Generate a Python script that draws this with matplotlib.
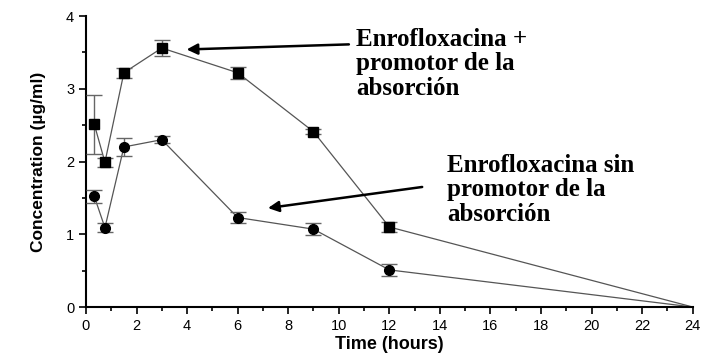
import numpy as np
import matplotlib.pyplot as plt
from matplotlib.ticker import MultipleLocator

# sampling times (hours)
time_h = [0.33, 0.75, 1.5, 3, 6, 9, 12, 24]

# enrofloxacina + promotor de la absorcion
conc_prom = [2.51, 1.99, 3.22, 3.56, 3.22, 2.41, 1.10, 0.0]
err_prom = [0.40, 0.06, 0.07, 0.11, 0.08, 0.03, 0.07, 0.0]

# enrofloxacina sin promotor
conc_sin = [1.52, 1.09, 2.20, 2.30, 1.23, 1.07, 0.51, 0.0]
err_sin = [0.09, 0.06, 0.12, 0.05, 0.08, 0.08, 0.08, 0.0]

fig = plt.figure(figsize=(7.03, 3.55), dpi=100)
ax = fig.add_axes([0.1223, 0.1352, 0.863, 0.8197])

# connecting lines first, markers with error bars on top
ax.plot(time_h, conc_prom, color='#555555', lw=0.9, zorder=2)
ax.plot(time_h, conc_sin, color='#555555', lw=0.9, zorder=2)
ax.errorbar(time_h[:-1], conc_prom[:-1], yerr=err_prom[:-1], fmt='s',
            color='k', ms=6.5, ecolor='#666666', elinewidth=1, capsize=6,
            capthick=1, zorder=3)
ax.errorbar(time_h[:-1], conc_sin[:-1], yerr=err_sin[:-1], fmt='o',
            color='k', ms=7, ecolor='#666666', elinewidth=1, capsize=6,
            capthick=1, zorder=3)

ax.set_xlim(0, 24)
ax.set_ylim(0, 4)
ax.xaxis.set_major_locator(MultipleLocator(2))
ax.xaxis.set_minor_locator(MultipleLocator(1))
ax.yaxis.set_major_locator(MultipleLocator(1))
ax.yaxis.set_minor_locator(MultipleLocator(0.5))
ax.tick_params(which='both', direction='out', width=1.2, labelsize=10.5)
ax.tick_params(which='major', length=5)
ax.tick_params(which='minor', length=3)
for lab in ax.get_xticklabels() + ax.get_yticklabels():
    lab.set_family('Liberation Sans')

for s in ['top', 'right']:
    ax.spines[s].set_visible(False)
for s in ['left', 'bottom']:
    ax.spines[s].set_linewidth(1.5)

ax.set_xlabel('Time (hours)', fontsize=13, fontweight='bold',
              family='Liberation Sans', labelpad=2)
ax.set_ylabel('Concentration (µg/ml)', fontsize=12.5, fontweight='bold',
              family='Liberation Sans', labelpad=14)

txt = dict(fontsize=18, fontweight='bold', family='Liberation Serif',
           ha='left', va='top', linespacing=1.1)
ax.text(10.7, 3.84, 'Enrofloxacina +\npromotor de la\nabsorción', **txt)
ax.text(14.3, 2.11, 'Enrofloxacina sin\npromotor de la\nabsorción', **txt)

arrow = dict(arrowstyle='-|>', color='k', lw=1.8, mutation_scale=16,
             shrinkA=0, shrinkB=0)
ax.annotate('', xy=(3.98, 3.54), xytext=(10.4, 3.61), arrowprops=arrow)
ax.annotate('', xy=(7.2, 1.36), xytext=(13.3, 1.65), arrowprops=arrow)

fig.savefig('out.png', dpi=100)
